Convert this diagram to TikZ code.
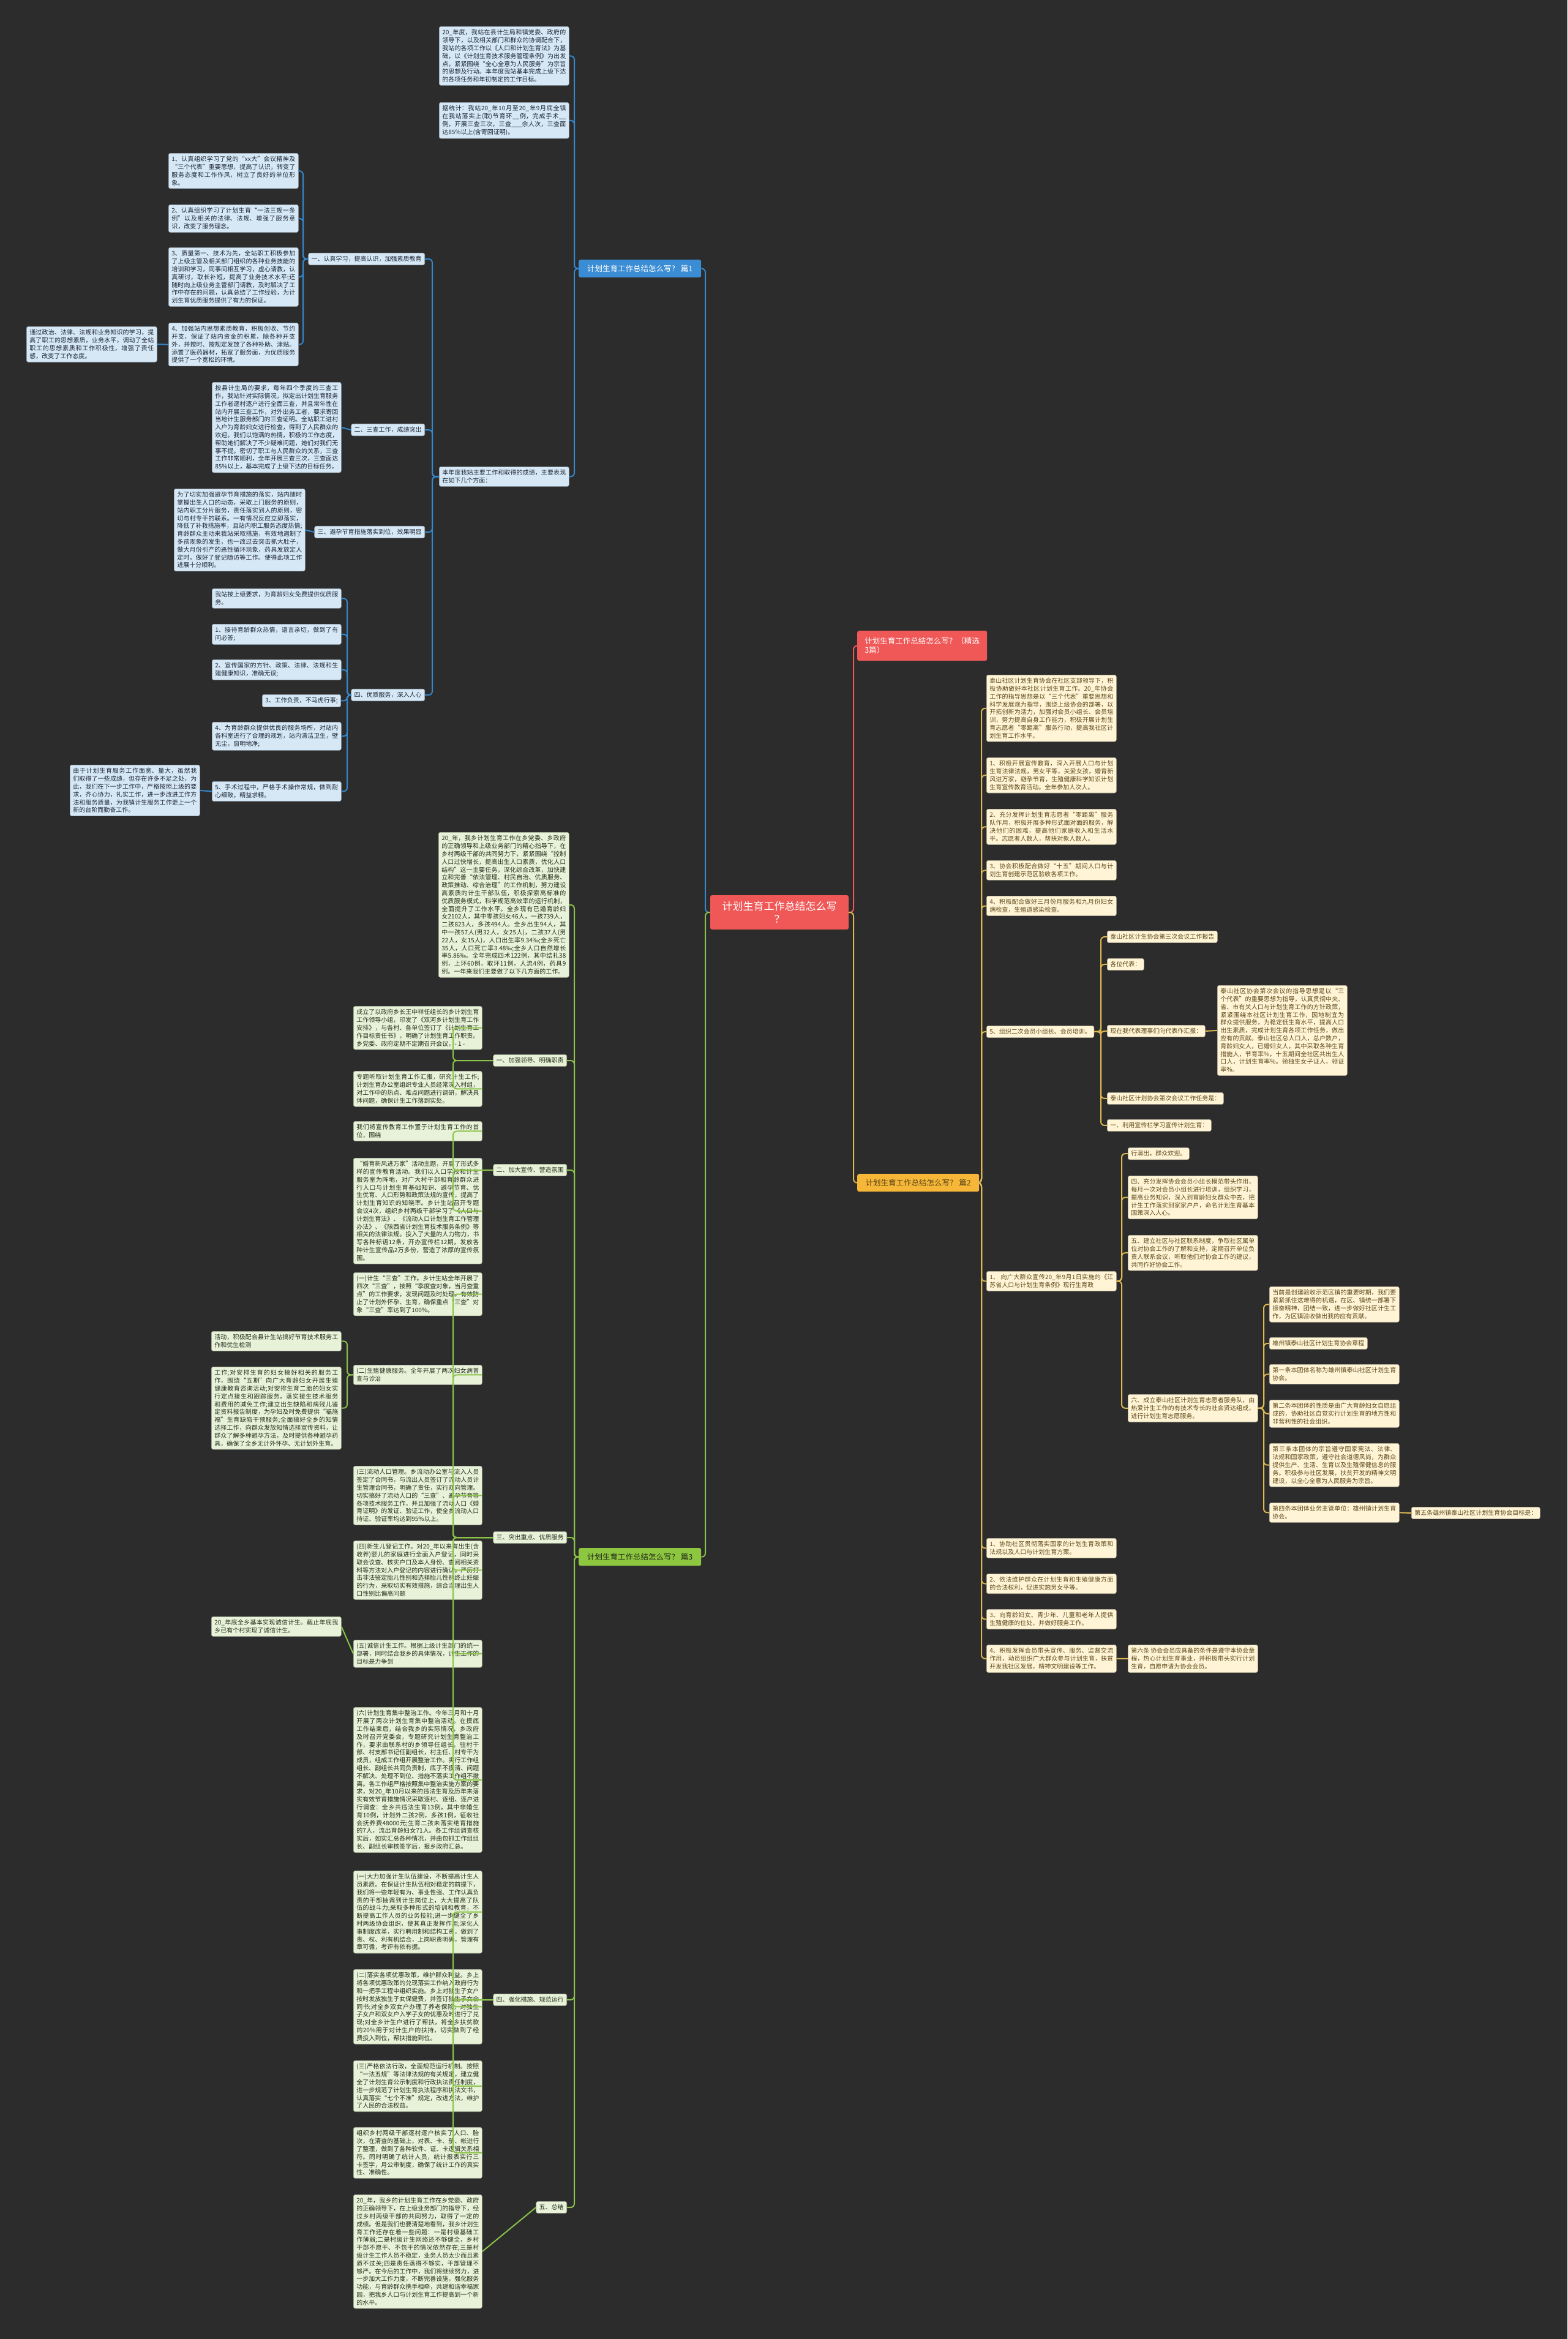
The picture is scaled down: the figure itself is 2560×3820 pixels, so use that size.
\documentclass[tikz,border=0pt]{standalone}
\usepackage{fontspec}
\newfontfamily\cjk{Noto Sans CJK SC}
\XeTeXlinebreaklocale "zh"
\XeTeXlinebreakskip=0pt plus 1pt
\definecolor{bgc}{RGB}{44,44,44}
\definecolor{bluebg}{RGB}{214,232,246}
\definecolor{blueln}{RGB}{52,136,206}
\definecolor{bluetx}{RGB}{28,36,48}
\definecolor{greenbg}{RGB}{231,242,216}
\definecolor{greenln}{RGB}{139,195,74}
\definecolor{greentx}{RGB}{36,44,28}
\definecolor{orgbg}{RGB}{255,245,214}
\definecolor{orgln}{RGB}{222,184,80}
\definecolor{orgtx}{RGB}{92,70,24}
\definecolor{redbg}{RGB}{240,88,88}
\definecolor{orghub}{RGB}{246,183,56}
\definecolor{bluehub}{RGB}{58,140,212}
\definecolor{greenhub}{RGB}{141,198,63}
\begin{document}
\begin{tikzpicture}[x=1pt,y=-1pt,
  txt/.style={font=\cjk\fontsize{10}{12.8}\selectfont, rounded corners=3pt,
    inner xsep=5pt, inner ysep=5pt, anchor=north west, align=justify, line width=0.6pt},
  bbox/.style={txt, draw=bluebg!70!black, fill=bluebg, text=bluetx},
  gbox/.style={txt, draw=greenbg!70!black, fill=greenbg, text=greentx},
  obox/.style={txt, draw=orgbg!70!black, fill=orgbg, text=orgtx},
  blab/.style={bbox, align=left},
  glab/.style={gbox, align=left},
  olab/.style={obox, align=left},
  hub/.style={font=\cjk\fontsize{12.5}{15}\selectfont, rounded corners=3pt, inner sep=4pt, align=left},
  bl/.style={draw=blueln, line width=2pt, rounded corners=6pt},
  gl/.style={draw=greenln, line width=2pt, rounded corners=6pt},
  ol/.style={draw=orgln, line width=2pt, rounded corners=6pt},
  rl/.style={draw=redbg, line width=2pt, rounded corners=6pt}]
\fill[bgc] (0,0) rectangle (2560,3820);
\useasboundingbox (0,0) rectangle (2560,3820);

% centre and main branches
\node[hub, fill=redbg, text=white, font=\cjk\fontsize{17}{21}\selectfont, minimum width=226pt, minimum height=56pt, align=center] (ctr) at (1273,1490) {计划生育工作总结怎么写\\？};
\node[hub, fill=redbg, text=white, anchor=north west, minimum width=212pt, minimum height=49pt] (n0) at (1400,1030) {计划生育工作总结怎么写？（精选\\3篇）};
\node[hub, fill=orghub, text=orgtx, anchor=north west, minimum width=199pt, minimum height=29pt] (n2) at (1400,1917) {计划生育工作总结怎么写？ 篇2};
\node[hub, fill=bluehub, text=white, anchor=north west, minimum width=200pt, minimum height=29pt] (n1) at (945,424) {计划生育工作总结怎么写？ 篇1};
\node[hub, fill=greenhub, text=greentx, anchor=north west, minimum width=200pt, minimum height=29pt] (n3) at (945,2528) {计划生育工作总结怎么写？ 篇3};

\coordinate (bK) at (1152,0);
\coordinate (bL) at (1394,0);
\draw[bl] (ctr.west) -- (ctr.west -| bK) |- (n1.east);
\draw[gl] (ctr.west) -- (ctr.west -| bK) |- (n3.east);
\draw[rl] (ctr.east) -- (ctr.east -| bL) |- (n0.west);
\draw[ol] (ctr.east) -- (ctr.east -| bL) |- (n2.west);

%%%%%%%%%%%%%%%%%%%% part 1 (blue)
\node[bbox, text width=202pt] (a1) at (717,43) {20\_年度，我站在县计生局和镇党委、政府的领导下，以及相关部门和群众的协调配合下，我站的各项工作以《人口和计划生育法》为基础，以《计划生育技术服务管理条例》为出发点，紧紧围绕“全心全意为人民服务”为宗旨的思想及行动。本年度我站基本完成上级下达的各项任务和年初制定的工作目标。};
\node[bbox, text width=202pt] (a2) at (717,167) {据统计：我站20\_年10月至20\_年9月底全镇在我站落实上(取)节育环\_\_例，完成手术\_\_例，开展三查三次，三查\_\_\_余人次，三查面达85\%以上(含寄回证明)。};
\node[bbox, text width=202pt] (a3) at (717,762) {本年度我站主要工作和取得的成绩，主要表现在如下几个方面：};
\coordinate (bA) at (938,0);
\foreach \c in {a1,a2,a3} \draw[bl] (n1.west) -- (n1.west -| bA) |- (\c.east);

\node[blab, anchor=east] (l1) at (694,423) {一、认真学习，提高认识，加强素质教育};
\node[blab, anchor=east] (l2) at (694,702) {二、三查工作，成绩突出};
\node[blab, anchor=east] (l3) at (694,869) {三、避孕节育措施落实到位，效果明显};
\node[blab, anchor=east] (l4) at (694,1135) {四、优质服务，深入人心};
\coordinate (bB) at (706,0);
\foreach \c in {l1,l2,l3,l4} \draw[bl] (a3.west) -- (a3.west -| bB) |- (\c.east);

\node[bbox, text width=202pt] (b1) at (275,250) {1、认真组织学习了党的“xx大”会议精神及“三个代表”重要思想，提高了认识，转变了服务态度和工作作风，树立了良好的单位形象。};
\node[bbox, text width=202pt] (b2) at (275,334) {2、认真组织学习了计划生育“一法三规一条例”以及相关的法律、法规、增强了服务意识，改变了服务理念。};
\node[bbox, text width=202pt] (b3) at (275,404) {3、质量第一、技术为先，全站职工积极参加了上级主管及相关部门组织的各种业务技能的培训和学习，同事间相互学习，虚心请教，认真研讨，取长补短，提高了业务技术水平;还随时向上级业务主管部门请教，及时解决了工作中存在的问题，认真总结了工作经验，为计划生育优质服务提供了有力的保证。};
\node[bbox, text width=202pt] (b4) at (275,527) {4、加强站内思想素质教育，积极创收、节约开支，保证了站内资金的积累，除各种开支外，并按时、按规定发放了各种补助、津贴。添置了医药器材，拓宽了服务面，为优质服务提供了一个宽松的环境。};
\node[bbox, text width=203pt] (b4c) at (43,533) {通过政治、法律、法规和业务知识的学习，提高了职工的思想素质，业务水平，调动了全站职工的思想素质和工作积极性，增强了责任感，改变了工作态度。};
\coordinate (bC) at (495,0);
\foreach \c in {b1,b2,b3,b4} \draw[bl] (l1.west) -- (l1.west -| bC) |- (\c.east);
\draw[bl] (b4.west) -- (b4c.east);

\node[bbox, text width=201pt] (d2) at (346,624) {按县计生局的要求，每年四个季度的三查工作，我站针对实际情况，拟定出计划生育服务工作者逐村逐户进行全面三查，并且常年性在站内开展三查工作，对外出务工者，要求寄回当地计生服务部门的三查证明。全站职工进村入户为育龄妇女进行检查，得到了人民群众的欢迎。我们以饱满的热情，积极的工作态度，帮助她们解决了不少疑难问题，她们对我们无事不提。密切了职工与人民群众的关系，三查工作非常顺利，全年开展三查三次，三查面达85\%以上，基本完成了上级下达的目标任务。};
\draw[bl] (l2.west) -- (d2.east);
\node[bbox, text width=204pt] (d3) at (284,798) {为了切实加强避孕节育措施的落实，站内随时掌握出生人口的动态，采取上门服务的原则，站内职工分片服务，责任落实到人的原则，密切与村专干的联系。一有情况反应立即落实，降低了补救措施率，且站内职工服务态度热情;育龄群众主动来我站采取措施，有效地遏制了多孩现象的发生，也一改过去突击抓大肚子，做大月份引产的恶性循环现象，药具发放定人定时，做好了登记随访等工作。使得此项工作进展十分顺利。};
\draw[bl] (l3.west) -- (d3.east);

\node[bbox, text width=201pt] (c0) at (346,961) {我站按上级要求，为育龄妇女免费提供优质服务。};
\node[bbox, text width=201pt] (c1) at (346,1019) {1、接待育龄群众热情，语言亲切，做到了有问必答;};
\node[bbox, text width=201pt] (c2) at (346,1077) {2、宣传国家的方针、政策、法律、法规和生殖健康知识，准确无误;};
\node[blab] (c3) at (428,1134) {3、工作负责，不马虎行事;};
\node[bbox, text width=201pt] (c4) at (346,1179) {4、为育龄群众提供优良的服务场所，对站内各科室进行了合理的规划，站内清洁卫生，壁无尘，窗明地净;};
\node[bbox, text width=201pt] (c5) at (346,1276) {5、手术过程中，严格手术操作常规，做到耐心细致，精益求精。};
\node[bbox, text width=202pt] (c5c) at (114,1249) {由于计划生育服务工作面宽、量大，虽然我们取得了一些成绩，但存在许多不足之处，为此，我们在下一步工作中，严格按照上级的要求，齐心协力，扎实工作，进一步改进工作方法和服务质量，为我镇计生服务工作更上一个新的台阶而勤奋工作。};
\coordinate (bD) at (567,0);
\foreach \c in {c0,c1,c2,c3,c4,c5} \draw[bl] (l4.west) -- (l4.west -| bD) |- (\c.east);
\draw[bl] (c5.west) -- (c5c.east);

%%%%%%%%%%%%%%%%%%%% part 2 (orange)
\node[obox, text width=202pt] (y1) at (1611,1102) {泰山社区计划生育协会在社区支部领导下，积极协助做好本社区计划生育工作。20\_年协会工作的指导思想是以“三个代表”重要思想和科学发展观为指导，围绕上级协会的部署，以开拓创新为活力，加强对会员小组长、会员培训，努力提高自身工作能力，积极开展计划生育志愿者“零距离”服务行动，提高我社区计划生育工作水平。};
\node[obox, text width=202pt] (y2) at (1611,1237) {1、积极开展宣传教育，深入开展人口与计划生育法律法规，男女平等，关爱女孩，婚育新风进万家，避孕节育，生殖健康科学知识计划生育宣传教育活动。全年参加人次人。};
\node[obox, text width=202pt] (y3) at (1611,1321) {2、充分发挥计划生育志愿者“零距离”服务队作用，积极开展多种形式面对面的服务，解决他们的困难，提高他们家庭收入和生活水平。志愿者人数人，帮扶对象人数人。};
\node[obox, text width=202pt] (y4) at (1611,1405) {3、协会积极配合做好“十五”期间人口与计划生育创建示范区验收各项工作。};
\node[obox, text width=202pt] (y5) at (1611,1463) {4、积极配合做好三月份月服务和九月份妇女病检查，生殖道感染检查。};
\node[olab] (y6) at (1611,1675) {5、组织二次会员小组长、会员培训。};
\node[obox, text width=202pt] (p1) at (1611,2076) {1、 向广大群众宣传20\_年9月1日实施的《江苏省人口与计划生育条例》现行生育政};
\node[obox, text width=202pt] (p2) at (1611,2512) {1、协助社区贯彻落实国家的计划生育政策和法规以及人口与计划生育方案。};
\node[obox, text width=202pt] (p3) at (1611,2570) {2、依法维护群众在计划生育和生殖健康方面的合法权利，促进实施男女平等。};
\node[obox, text width=202pt] (p4) at (1611,2628) {3、向育龄妇女、青少年、儿童和老年人提供生殖健康的住处，并做好服务工作。};
\node[obox, text width=202pt] (p5) at (1611,2686) {4、积极发挥会员带头宣传、服务、监督交流作用，动员组织广大群众参与计划生育，扶贫开发我社区发展，精神文明建设等工作。};
\coordinate (bG) at (1603,0);
\foreach \c in {y1,y2,y3,y4,y5,y6,p1,p2,p3,p4,p5} \draw[ol] (n2.east) -- (n2.east -| bG) |- (\c.west);

\node[olab] (z1) at (1808,1520) {泰山社区计生协会第三次会议工作报告};
\node[olab] (z2) at (1808,1565) {各位代表：};
\node[olab] (z3) at (1808,1674) {现在我代表理事们向代表作汇报：};
\node[olab] (z4) at (1808,1784) {泰山社区计划协会第次会议工作任务是：};
\node[olab] (z5) at (1808,1828) {一、利用宣传栏学习宣传计划生育：};
\node[obox, text width=202pt] (z3c) at (1988,1609) {泰山社区协会第次会议的指导思想是以“三个代表”的重要思想为指导，认真贯彻中央、省、市有关人口与计划生育工作的方针政策，紧紧围绕本社区计划生育工作，因地制宜为群众提供服务，为稳定低生育水平，提高人口出生素质，完成计划生育各项工作任务，做出应有的贡献。泰山社区总人口人，总户数户，育龄妇女人，已婚妇女人，其中采取各种生育措施人，节育率\%，十五期间全社区共出生人口人，计划生育率\%。领独生女子证人，领证率\%。};
\coordinate (bH) at (1798,0);
\foreach \c in {z1,z2,z3,z4,z5} \draw[ol] (y6.east) -- (y6.east -| bH) |- (\c.west);
\draw[ol] (z3.east) -- (z3c.west);

\node[olab] (q1) at (1842,1874) {行演出，群众欢迎。};
\node[obox, text width=202pt] (q2) at (1842,1920) {四、充分发挥协会会员小组长模范带头作用，每月一次对会员小组长进行培训，组织学习，提高业务知识，深入到育龄妇女群众中去，把计生工作落实到家家户户，命名计划生育基本国策深入人心。};
\node[obox, text width=202pt] (q3) at (1842,2017) {五、建立社区与社区联系制度，争取社区属单位对协会工作的了解和支持，定期召开单位负责人联系会议，听取他们对协会工作的建议，共同作好协会工作。};
\node[obox, text width=202pt] (q4) at (1842,2277) {六、成立泰山社区计划生育志愿者服务队，由热爱计生工作的有技术专长的社会贤达组成，进行计划生育志愿服务。};
\coordinate (bI) at (1832,0);
\foreach \c in {q1,q2,q3,q4} \draw[ol] (p1.east) -- (p1.east -| bI) |- (\c.west);

\node[obox, text width=202pt] (r1) at (2073,2101) {当前是创建验收示范区镇的重要时期，我们要紧紧抓住这难得的机遇，在区、镇统一部署下振奋精神，团结一致，进一步做好社区计生工作，为区镇验收做出我的应有贡献。};
\node[olab] (r2) at (2073,2184) {雄州镇泰山社区计划生育协会章程};
\node[obox, text width=202pt] (r3) at (2073,2228) {第一条本团体名称为雄州镇泰山社区计划生育协会。};
\node[obox, text width=202pt] (r4) at (2073,2286) {第二条本团体的性质是由广大育龄妇女自愿组成的，协助社区自觉实行计划生育的地方性和非营利性的社会组织。};
\node[obox, text width=202pt] (r5) at (2073,2357) {第三条本团体的宗旨遵守国家宪法、法律、法规和国家政策，遵守社会道德风尚，为群众提供生产、生活、生育以及生殖保健信息的服务。积极参与社区发展，扶贫开发的精神文明建设，以全心全意为人民服务为宗旨。};
\node[obox, text width=202pt] (r6) at (2073,2454) {第四条本团体业务主管单位：雄州镇计划生育协会。};
\node[olab] (r7) at (2305,2461) {第五条雄州镇泰山社区计划生育协会目标是：};
\coordinate (bJ) at (2064,0);
\foreach \c in {r1,r2,r3,r4,r5,r6} \draw[ol] (q4.east) -- (q4.east -| bJ) |- (\c.west);
\draw[ol] (r6.east) -- (r7.west);

\node[obox, text width=202pt] (p5c) at (1842,2686) {第六条 协会会员应具备的条件是遵守本协会章程，热心计划生育事业，并积极带头实行计划生育，自愿申请为协会会员。};
\draw[ol] (p5.east) -- (p5c.west);

%%%%%%%%%%%%%%%%%%%% part 3 (green)
\node[gbox, text width=203pt] (e0) at (716,1359) {20\_年，我乡计划生育工作在乡党委、乡政府的正确领导和上级业务部门的精心指导下，在乡村两级干部的共同努力下，紧紧围绕“控制人口过快增长，提高出生人口素质，优化人口结构”这一主要任务，深化综合改革，加快建立和完善“依法管理、村民自治、优质服务、政策推动、综合治理”的工作机制，努力建设高素质的计生干部队伍，积极探索高标准的优质服务模式，科学规范高效率的运行机制，全面提升了工作水平。全乡现有已婚育龄妇女2102人，其中零孩妇女46人，一孩739人，二孩823人，多孩494人。全乡出生94人，其中一孩57人(男32人，女25人)，二孩37人(男22人，女15人)，人口出生率9.34‰;全乡死亡35人，人口死亡率3.48‰;全乡人口自然增长率5.86‰。全年完成四术122例，其中结扎38例，上环60例，取环11例，人流4例，药具9例。一年来我们主要做了以下几方面的工作。};
\node[glab, anchor=east] (m1) at (926,1732) {一、加强领导、明确职责};
\node[glab, anchor=east] (m2) at (926,1911) {二、加大宣传、营造氛围};
\node[glab, anchor=east] (m3) at (926,2511) {三、突出重点、优质服务};
\node[glab, anchor=east] (m4) at (926,3266) {四、强化措施、规范运行};
\node[glab, anchor=east] (m5) at (926,3605) {五、总结};
\coordinate (bE) at (938,0);
\foreach \c in {e0,m1,m2,m3,m4,m5} \draw[gl] (n3.west) -- (n3.west -| bE) |- (\c.east);

\node[gbox, text width=200pt] (g1) at (577,1643) {成立了以政府乡长王中祥任组长的乡计划生育工作领导小组，印发了《双河乡计划生育工作安排》，与各村、各单位签订了《计划生育工作目标责任书》，明确了计划生育工作职责。乡党委、政府定期不定期召开会议，- 1 -};
\node[gbox, text width=200pt] (g2) at (577,1749) {专题听取计划生育工作汇报，研究计生工作;计划生育办公室组织专业人员经常深入村组，对工作中的热点、难点问题进行调研，解决具体问题，确保计生工作落到实处。};
\coordinate (bM1) at (740,0);
\foreach \c in {g1,g2} \draw[gl] (m1.west) -- (m1.west -| bM1) |- (\c.east);

\node[gbox, text width=200pt] (g3) at (577,1831) {我们将宣传教育工作置于计划生育工作的首位，围绕};
\node[gbox, text width=200pt] (g4) at (577,1891) {“婚育新风进万家”活动主题，开展了形式多样的宣传教育活动。我们以人口学校和计生服务室为阵地，对广大村干部和育龄群众进行人口与计划生育基础知识、避孕节育、优生优育、人口形势和政策法规的宣传，提高了计划生育知识的知晓率。乡计生站召开专题会议4次，组织乡村两级干部学习了《人口与计划生育法》、《流动人口计划生育工作管理办法》、《陕西省计划生育技术服务条例》等相关的法律法规。投入了大量的人力物力，书写各种标语12条，开办宣传栏12期，发放各种计生宣传品2万多份，营造了浓厚的宣传氛围。};
\foreach \c in {g3,g4} \draw[gl] (m2.west) -- (m2.west -| bM1) |- (\c.east);

\node[gbox, text width=200pt] (g5) at (577,2078) {(一)计生“三查”工作。乡计生站全年开展了四次“三查”，按照“季度查对象，当月查重点”的工作要求，发现问题及时处理，有效防止了计划外怀孕、生育，确保重点“三查”对象“三查”率达到了100\%。};
\node[gbox, text width=200pt] (g6) at (577,2229) {(二)生殖健康服务。全年开展了两次妇女病普查与诊治};
\node[gbox, text width=200pt] (g7) at (577,2394) {(三)流动人口管理。乡流动办公室与流入人员签定了合同书，与流出人员签订了流动人员计生管理合同书，明确了责任，实行双向管理。切实搞好了流动人口的“三查”、避孕节育等各项技术服务工作，并且加强了流动人口《婚育证明》的发证、验证工作，使全乡流动人口持证、验证率均达到95\%以上。};
\node[gbox, text width=200pt] (g8) at (577,2516) {(四)新生儿登记工作。对20\_年以来有出生(含收养)婴儿的家庭进行全面入户登记，同时采取会议查、核实户口及本人身份、查阅相关资料等方法对入户登记的内容进行确认。严厉打击非法鉴定胎儿性别和选择胎儿性别终止妊娠的行为，采取切实有效措施，综合治理出生人口性别比偏高问题};
\node[gbox, text width=200pt] (g9) at (577,2678) {(五)诚信计生工作。根据上级计生部门的统一部署，同时结合我乡的具体情况，计生工作的目标是力争到};
\node[gbox, text width=200pt] (g10) at (577,2788) {(六)计划生育集中整治工作。今年三月和十月开展了两次计划生育集中整治活动。在摸底工作结束后，结合我乡的实际情况，乡政府及时召开党委会，专题研究计划生育整治工作，要求由联系村的乡领导任组长，驻村干部、村支部书记任副组长，村主任、村专干为成员，组成工作组开展整治工作。实行工作组组长、副组长共同负责制，底子不摸清、问题不解决、处理不到位、措施不落实工作组不撤离。各工作组严格按照集中整治实施方案的要求，对20\_年10月以来的违法生育及历年未落实有效节育措施情况采取逐村、逐组、逐户进行调查：全乡共违法生育13例，其中非婚生育10例，计划外二孩2例，多孩1例，征收社会抚养费48000元;生育二孩未落实绝育措施的7人，流出育龄妇女71人。各工作组调查核实后，如实汇总各种情况，并由包抓工作组组长、副组长审核签字后，报乡政府汇总。};
\foreach \c in {g5,g6,g7,g8,g9,g10} \draw[gl] (m3.west) -- (m3.west -| bM1) |- (\c.east);

\node[gbox, text width=202pt] (h1) at (345,2174) {活动，积极配合县计生站搞好节育技术服务工作和优生检测};
\node[gbox, text width=202pt] (h2) at (345,2232) {工作;对安排生育的妇女搞好相关的服务工作，围绕“五期”向广大育龄妇女开展生殖健康教育咨询活动;对安排生育二胎的妇女实行定点接生和跟踪服务，落实接生技术服务和费用的减免工作;建立出生缺陷和病残儿鉴定资料报告制度，为孕妇及时免费提供“福施福”生育缺陷干预服务;全面搞好全乡的知情选择工作，向群众发放知情选择宣传资料，让群众了解多种避孕方法，及时提供各种避孕药具，确保了全乡无计外怀孕、无计划外生育。};
\coordinate (bF) at (567,0);
\foreach \c in {h1,h2} \draw[gl] (g6.west) -- (g6.west -| bF) |- (\c.east);
\node[gbox, text width=202pt] (h3) at (345,2640) {20\_年底全乡基本实现诚信计生。截止年底我乡已有个村实现了诚信计生。};
\draw[gl] (g9.west) -- (h3.east);

\node[gbox, text width=200pt] (g11) at (577,3055) {(一)大力加强计生队伍建设，不断提高计生人员素质。在保证计生队伍相对稳定的前提下，我们将一些年轻有为、事业性强、工作认真负责的干部抽调到计生岗位上，大大提高了队伍的战斗力;采取多种形式的培训和教育，不断提高工作人员的业务技能;进一步健全了乡村两级协会组织，使其真正发挥作用;深化人事制度改革，实行聘用制和结构工资，做到了责、权、利有机结合，上岗职责明确，管理有章可循，考评有依有据。};
\node[gbox, text width=200pt] (g12) at (577,3216) {(二)落实各项优惠政策，维护群众利益。乡上将各项优惠政策的兑现落实工作纳入政府行为和一把手工程中组织实施。乡上对独生子女户按时发放独生子女保健费，并签订独生子女合同书;对全乡双女户办理了养老保险，对独生子女户和双女户入学子女的优惠及时进行了兑现;对全乡计生户进行了帮扶，将全乡扶贫款的20\%用于对计生户的扶持，切实做到了经费投入到位，帮扶措施到位。};
\node[gbox, text width=200pt] (g13) at (577,3365) {(三)严格依法行政，全面规范运行机制。按照“一法五规”等法律法规的有关规定，建立健全了计划生育公示制度和行政执法责任制度，进一步规范了计划生育执法程序和执法文书，认真落实“七个不准”规定，改进方法，维护了人民的合法权益。};
\node[gbox, text width=200pt] (g14) at (577,3474) {组织乡村两级干部逐村逐户核实了人口、胎次，在清查的基础上，对表、卡、册、帐进行了整理，做到了各种软件、证、卡逻辑关系相符。同时明确了统计人员，统计报表实行三卡签字，月公审制度，确保了统计工作的真实性、准确性。};
\foreach \c in {g11,g12,g13,g14} \draw[gl] (m4.west) -- (m4.west -| bM1) |- (\c.east);
\node[gbox, text width=200pt] (g15) at (577,3584) {20\_年，我乡的计划生育工作在乡党委、政府的正确领导下，在上级业务部门的指导下，经过乡村两级干部的共同努力，取得了一定的成绩。但是我们也要清楚地看到，我乡计划生育工作还存在着一些问题：一是村级基础工作薄弱;二是村级计生网络还不够健全，乡村干部不愿干、不包干的情况依然存在;三是村级计生工作人员不稳定，业务人员太少而且素质不过关;四是责任落得不够实，干部管理不够严。在今后的工作中，我们将继续努力，进一步加大工作力度，不断完善设施，强化服务功能，与育龄群众携手相牵，共建和谐幸福家园，把我乡人口与计划生育工作提高到一个新的水平。};
\draw[gl] (m5.west) -- (g15.east);
\end{tikzpicture}
\end{document}
